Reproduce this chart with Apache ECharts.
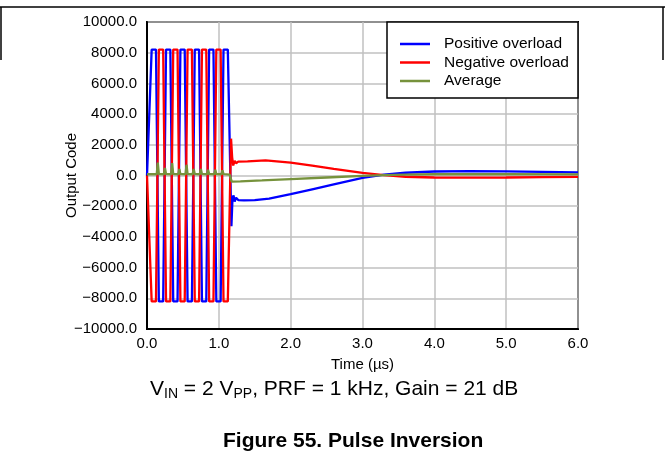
<!DOCTYPE html>
<html>
<head>
<meta charset="utf-8">
<script src="https://cdn.jsdelivr.net/npm/echarts@6/dist/echarts.min.js"></script>
<style>
html,body{margin:0;padding:0;background:#fff;}
#c{width:665px;height:455px;}
</style>
</head>
<body>
<div id="c"></div>
<script>
// ---- data (time in µs, output code) ----
const seriesNames = ['Positive overload', 'Negative overload', 'Average'];
const seriesColors = ['#0000ff', '#ff0000', '#76923c'];
const xTickRange = [0, 6, 1];
const yTickRange = [-10000, 10000, 2000];

const positiveOverload = [
  [0, 0], [0.02, 0], [0.065, 8200], [0.125, 8200], [0.165, -8200], [0.225, -8200],
  [0.265, 8200], [0.325, 8200], [0.365, -8200], [0.425, -8200],
  [0.465, 8200], [0.525, 8200], [0.565, -8200], [0.625, -8200],
  [0.665, 8200], [0.725, 8200], [0.765, -8200], [0.825, -8200],
  [0.865, 8200], [0.925, 8200], [0.965, -8200], [1.025, -8200],
  [1.065, 8200], [1.125, 8200], [1.175, -3300], [1.19, -1500], [1.205, -1300],
  [1.22, -1700], [1.24, -1450], [1.27, -1600], [1.35, -1620], [1.5, -1600],
  [1.7, -1500], [2.0, -1220], [2.3, -900], [2.6, -580], [3.0, -150], [3.3, 50],
  [3.6, 180], [4.0, 260], [4.5, 280], [5.0, 270], [5.5, 240], [6.0, 210]
];
const negativeOverload = [
  [0, 0], [0.02, 0], [0.065, -8200], [0.125, -8200], [0.165, 8200], [0.225, 8200],
  [0.265, -8200], [0.325, -8200], [0.365, 8200], [0.425, 8200],
  [0.465, -8200], [0.525, -8200], [0.565, 8200], [0.625, 8200],
  [0.665, -8200], [0.725, -8200], [0.765, 8200], [0.825, 8200],
  [0.865, -8200], [0.925, -8200], [0.965, 8200], [1.025, 8200],
  [1.065, -8200], [1.125, -8200], [1.17, 2400], [1.185, 1200], [1.2, 650],
  [1.22, 950], [1.24, 800], [1.27, 900], [1.4, 920], [1.65, 980], [2.0, 840],
  [2.3, 650], [2.6, 430], [3.0, 170], [3.3, 20], [3.6, -80], [4.0, -130],
  [4.5, -140], [5.0, -130], [5.5, -110], [6.0, -90]
];
const average = [
  [0, 80], [0.135, 80], [0.15, 840], [0.165, 90], [0.235, 80], [0.25, 490], [0.265, 90],
  [0.335, 80], [0.35, 800], [0.365, 90], [0.435, 80], [0.45, 430], [0.465, 90],
  [0.535, 80], [0.55, 700], [0.565, 90], [0.635, 80], [0.65, 430], [0.665, 90],
  [0.735, 80], [0.75, 430], [0.765, 90], [0.835, 80], [0.85, 370], [0.865, 90],
  [0.935, 80], [0.95, 370], [0.965, 90], [1.035, 80], [1.05, 330], [1.065, 90],
  [1.15, 60], [1.18, -400], [1.3, -380], [1.6, -320], [2.0, -230], [2.5, -130],
  [3.0, -30], [3.3, 20], [3.6, 60], [4.0, 80], [5.0, 80], [6.0, 70]
];
const seriesData = [positiveOverload, negativeOverload, average];

const FONT = '"Liberation Sans", Arial, sans-serif';
const fmt = v => (v < 0 ? '\u2212' + Math.abs(v).toFixed(1) : v.toFixed(1));

const chart = echarts.init(document.getElementById('c'), null, {renderer: 'canvas'});
chart.setOption({
  animation: false,
  backgroundColor: '#fff',
  textStyle: {fontFamily: FONT},
  grid: {left: 147, right: 87, top: 22, bottom: 126, show: true, borderColor: '#000', borderWidth: 2, containLabel: false},
  xAxis: {
    type: 'value', min: xTickRange[0], max: xTickRange[1], interval: xTickRange[2],
    name: 'Time (\u00b5s)', nameLocation: 'middle', nameGap: 28, nameMoveOverlap: false,
    nameTextStyle: {fontFamily: FONT, fontSize: 15, color: '#000'},
    axisLine: {show: true, onZero: false, lineStyle: {color: '#000', width: 2}},
    axisTick: {show: false},
    axisLabel: {formatter: fmt, fontFamily: FONT, fontSize: 15, color: '#000', margin: 7},
    splitLine: {show: true, lineStyle: {color: '#c0c0c0', width: 1.5}}
  },
  yAxis: {
    type: 'value', min: yTickRange[0], max: yTickRange[1], interval: yTickRange[2],
    name: 'Output Code', nameLocation: 'middle', nameGap: 68, nameRotate: 90, nameMoveOverlap: false,
    nameTextStyle: {fontFamily: FONT, fontSize: 15, color: '#000'},
    axisLine: {show: true, onZero: false, lineStyle: {color: '#000', width: 2}},
    axisTick: {show: false},
    axisLabel: {formatter: fmt, fontFamily: FONT, fontSize: 15, color: '#000', margin: 10},
    splitLine: {show: true, lineStyle: {color: '#c0c0c0', width: 1.5}}
  },
  legend: {
    orient: 'vertical', left: 400, top: 36, itemWidth: 30, itemHeight: 2.5, itemGap: 2.5,
    padding: 0, z: 20, icon: 'rect',
    textStyle: {fontFamily: FONT, fontSize: 15.5, color: '#000', padding: [0, 0, 0, 9]},
    data: seriesNames
  },
  series: seriesNames.map((n, i) => ({
    name: n, type: 'line', data: seriesData[i], symbol: 'none', smooth: false,
    lineStyle: {color: seriesColors[i], width: 2.3}, itemStyle: {color: seriesColors[i]}, z: 2 + i
  })),
  graphic: [
    {type: 'rect', z: 10, shape: {x: 387, y: 22, width: 191, height: 76}, style: {fill: '#fff', stroke: '#000', lineWidth: 1.5}},
    {type: 'line', shape: {x1: 0, y1: 7, x2: 665, y2: 7}, style: {stroke: '#000', lineWidth: 1.5}},
    {type: 'line', shape: {x1: 1, y1: 7, x2: 1, y2: 60}, style: {stroke: '#000', lineWidth: 1.5}},
    {type: 'line', shape: {x1: 663, y1: 7, x2: 663, y2: 60}, style: {stroke: '#000', lineWidth: 1.5}},
    {type: 'text', left: 150, top: 379, style: {
      text: '{n|V}{s|IN}{n| = 2 V}{s|PP}{n|, PRF = 1 kHz, Gain = 21 dB}',
      rich: {
        n: {fontFamily: FONT, fontSize: 21, lineHeight: 24, fill: '#000'},
        s: {fontFamily: FONT, fontSize: 14, lineHeight: 14, verticalAlign: 'bottom', fill: '#000'}
      }
    }},
    {type: 'text', left: 223, top: 431, style: {
      text: 'Figure 55. Pulse Inversion', fontFamily: FONT, fontSize: 21, fontWeight: 'bold', fill: '#000'
    }}
  ]
});
</script>
</body>
</html>
